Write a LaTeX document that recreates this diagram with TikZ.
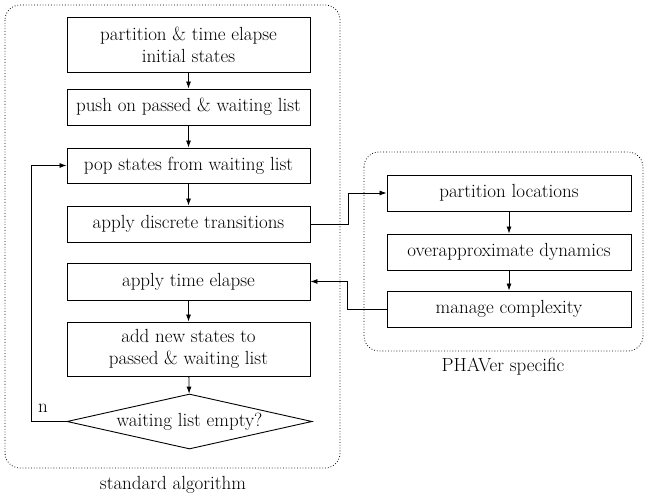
\documentclass[tikz,border=0pt]{standalone}
\usepackage{fontspec}
\usetikzlibrary{shapes.geometric,arrows.meta}
\tikzset{
  txt/.style={font=\rmfamily\fontsize{19}{22}\selectfont},
  stepbox/.style={txt,draw,line width=0.9pt,minimum width=243pt,inner sep=0pt,align=center},
  decbox/.style={txt,draw,line width=0.9pt,shape=diamond,shape aspect=4.45,minimum width=245pt,minimum height=55pt,inner sep=0pt},
  frame/.style={draw,dotted,line width=0.8pt,rounded corners=15pt},
  arr/.style={line width=0.8pt,-{Latex[length=7pt,width=5pt]}}}
\begin{document}
\begin{tikzpicture}[x=1pt,y=-1pt]
\useasboundingbox (0,0) rectangle (645,502);
\draw[frame] (5,5) rectangle (340,468);
\draw[frame] (364,152) rectangle (643,351);
\node[stepbox,minimum height=55pt] (b1) at (188.5,44.5) {partition \& time elapse\\initial states};
\node[stepbox,minimum height=36pt] (b2) at (188.5,107) {push on passed \& waiting list};
\node[stepbox,minimum height=35pt] (b3) at (188.5,165.5) {pop states from waiting list};
\node[stepbox,minimum height=36pt] (b4) at (188.5,224) {apply discrete transitions};
\node[stepbox,minimum height=37pt] (b5) at (188.5,281.5) {apply time elapse};
\node[stepbox,minimum height=54pt] (b6) at (188.5,349) {add new states to\\passed \& waiting list};
\node[decbox] (dia) at (189.5,421.5) {waiting list empty?};
\node[stepbox,minimum width=244pt,minimum height=36pt] (pl) at (509,193) {partition locations};
\node[stepbox,minimum width=244pt,minimum height=36pt] (od) at (509,252) {overapproximate dynamics};
\node[stepbox,minimum width=244pt,minimum height=36pt] (mc) at (509,309) {manage complexity};
\node[txt] (lstd) at (173,485) {standard algorithm};
\node[txt] (lpha) at (503,367) {PHAVer specific};
\node[txt] (ln) at (43,408) {n};
\draw[arr] (b1) -- (b2);
\draw[arr] (b2) -- (b3);
\draw[arr] (b3) -- (b4);
\draw[arr] (b5) -- (b6);
\draw[arr] (b6) -- (dia);
\draw[arr] (pl) -- (od);
\draw[arr] (od) -- (mc);
\draw[arr] (b4.east) -- ++(38,0) |- (pl.west);
\draw[arr] (mc.west) -- ++(-39,0) |- (b5.east);
\draw[arr] (dia.west) -- ++(-35,0) |- (b3.west);
\end{tikzpicture}
\end{document}
